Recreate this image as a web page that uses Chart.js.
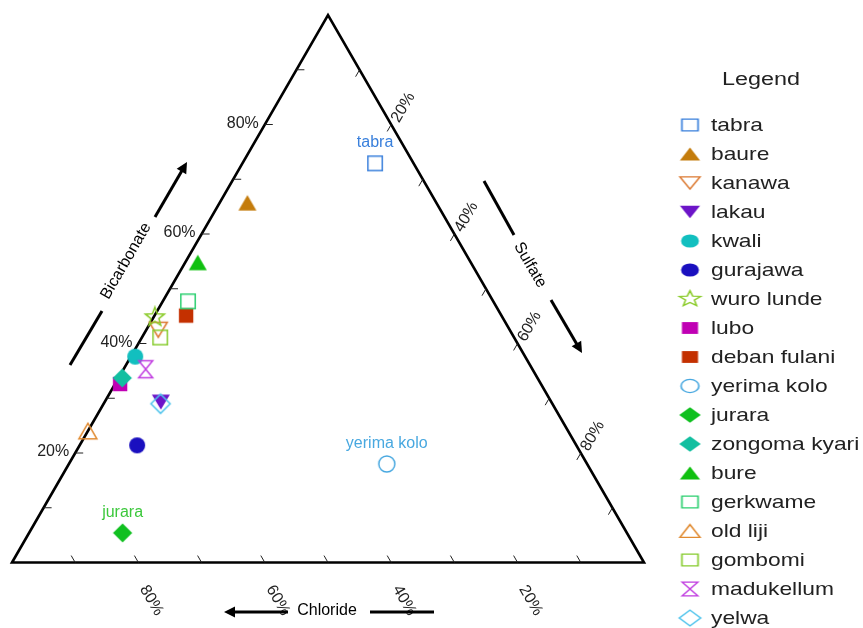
<!DOCTYPE html>
<html>
<head>
<meta charset="utf-8">
<script src="https://cdn.jsdelivr.net/npm/chart.js@4/dist/chart.umd.min.js"></script>
<style>
  html, body { margin: 0; padding: 0; background: #ffffff; }
  #wrap { width: 863px; height: 628px; }
</style>
</head>
<body>
<div id="wrap"><canvas id="chart" width="863" height="628"></canvas></div>
<script>
// Anion composition (% of HCO3 + SO4 + Cl) for each sampling site
const sites = ['tabra', 'baure', 'kanawa', 'lakau', 'kwali', 'gurajawa', 'wuro lunde', 'lubo',
  'deban fulani', 'yerima kolo', 'jurara', 'zongoma kyari', 'bure', 'gerkwame', 'old liji',
  'gombomi', 'madukellum', 'yelwa'];
const bicarbonate = [72.9, 65.7, 42.5, 29.3, 37.6, 21.4, 44.8, 32.6, 45.1, 18.0, 5.4, 33.7, 54.8, 47.7, 24.0, 41.1, 35.3, 29.0];
const sulfate     = [21.0,  4.4,  1.9,  8.9,  0.7,  9.1,  0.2,  0.8,  5.0, 50.3, 14.8, 0.6,  2.0,  4.0,  0.0,  2.9,  3.5,  9.0];
const chloride    = [ 6.1, 29.9, 55.6, 61.8, 61.7, 69.5, 55.0, 66.6, 49.9, 31.7, 79.8, 65.7, 43.2, 48.3, 76.0, 56.0, 61.2, 62.0];

// Marker style per site
const markerShapes = ['square', 'triUpFill', 'triDown', 'triDownFill', 'circleFill', 'circleFill', 'star', 'squareFill',
  'squareFill', 'circle', 'diamondFill', 'diamondFill', 'triUpFill', 'square', 'triUp',
  'square', 'hourglass', 'diamond'];
const markerColors = ['#3a80dc', '#c47c0c', '#dc7a32', '#6c14c8', '#12bfbf', '#1a0fbf', '#8ccc2c', '#c000b4',
  '#c43000', '#48a8e0', '#10c020', '#12bfa0', '#10c010', '#2ccf70', '#e08a30',
  '#88cc30', '#c03ce0', '#50c4ec'];

// Sites annotated with their name on the diagram
const labelledSites = ['tabra', 'yerima kolo', 'jurara'];
const labelColors = ['#3a80dc', '#48a8e0', '#3cc83c'];

// Axis graduations (%)
const minorTicks = [10, 20, 30, 40, 50, 60, 70, 80, 90];
const tickLabels = [20, 40, 60, 80];

const FONT = '"Liberation Sans", Arial, sans-serif';

function traceShape(g, shape) {
  g.beginPath();
  switch (shape.replace('Fill', '')) {
    case 'square': g.rect(-7.2, -7.2, 14.4, 14.4); break;
    case 'triUp': g.moveTo(0, -7.8); g.lineTo(9, 7.8); g.lineTo(-9, 7.8); g.closePath(); break;
    case 'triDown': g.moveTo(-9, -7.5); g.lineTo(9, -7.5); g.lineTo(0, 7.5); g.closePath(); break;
    case 'circle': g.arc(0, 0, 8, 0, Math.PI * 2); break;
    case 'diamond': g.moveTo(0, -9.6); g.lineTo(9.6, 0); g.lineTo(0, 9.6); g.lineTo(-9.6, 0); g.closePath(); break;
    case 'star':
      for (let k = 0; k < 10; k++) {
        const r = k % 2 === 0 ? 10 : 4.2;
        const a = -Math.PI / 2 + k * Math.PI / 5;
        const px = r * Math.cos(a), py = r * Math.sin(a);
        if (k === 0) g.moveTo(px, py); else g.lineTo(px, py);
      }
      g.closePath();
      break;
    case 'hourglass':
      g.moveTo(-7, -8.5); g.lineTo(7, -8.5); g.lineTo(-7, 8.5); g.lineTo(7, 8.5); g.closePath(); break;
  }
}

function markerCanvas(shape, color, sx, sy) {
  const cv = document.createElement('canvas');
  cv.width = Math.round(24 * sx);
  cv.height = Math.round(24 * sy);
  const g = cv.getContext('2d');
  g.translate(cv.width / 2, cv.height / 2);
  g.scale(sx, sy);
  traceShape(g, shape);
  if (shape.endsWith('Fill')) {
    g.fillStyle = color;
    g.fill();
  } else {
    g.strokeStyle = color;
    g.lineWidth = 1.5;
    g.lineJoin = 'miter';
    g.stroke();
  }
  return cv;
}

const plotMarkers = sites.map((s, i) => markerCanvas(markerShapes[i], markerColors[i], 1, 1));
const legendMarkers = sites.map((s, i) => markerCanvas(markerShapes[i], markerColors[i], 1.12, 0.82));

// Ternary -> cartesian (x across the base, y up toward the bicarbonate apex)
function ternaryPoint(i) {
  const t = bicarbonate[i] + sulfate[i] + chloride[i];
  const h = bicarbonate[i] / t * 100;
  const s = sulfate[i] / t * 100;
  return { x: s + h / 2, y: h };
}

const datasets = sites.map((name, i) => ({
  label: name,
  data: [ternaryPoint(i)],
  pointStyle: plotMarkers[i],
  pointRadius: 10,
  pointHoverRadius: 10,
  order: sites.length - i
}));

function drawArrow(ctx, x1, y1, x2, y2, head) {
  const ang = Math.atan2(y2 - y1, x2 - x1);
  const L = 11, W = 5.5;
  ctx.beginPath();
  ctx.moveTo(x1, y1);
  ctx.lineTo(head ? x2 - Math.cos(ang) * (L - 2) : x2, head ? y2 - Math.sin(ang) * (L - 2) : y2);
  ctx.stroke();
  if (head) {
    ctx.beginPath();
    ctx.moveTo(x2, y2);
    ctx.lineTo(x2 - L * Math.cos(ang) + W * Math.sin(ang), y2 - L * Math.sin(ang) - W * Math.cos(ang));
    ctx.lineTo(x2 - L * Math.cos(ang) - W * Math.sin(ang), y2 - L * Math.sin(ang) + W * Math.cos(ang));
    ctx.closePath();
    ctx.fill();
  }
}

function rotatedText(ctx, text, x, y, deg) {
  ctx.save();
  ctx.translate(x, y);
  ctx.rotate(deg * Math.PI / 180);
  ctx.textAlign = 'center';
  ctx.textBaseline = 'middle';
  ctx.fillText(text, 0, 0);
  ctx.restore();
}

const ternaryFrame = {
  id: 'ternaryFrame',
  beforeDatasetsDraw(chart) {
    const ctx = chart.ctx;
    const xs = chart.scales.x, ys = chart.scales.y;
    const P = (x, y) => [xs.getPixelForValue(x), ys.getPixelForValue(y)];
    const A = P(50, 100), B = P(100, 0), C = P(0, 0);

    ctx.save();
    // Triangle outline
    ctx.strokeStyle = '#000';
    ctx.lineWidth = 2.6;
    ctx.lineJoin = 'miter';
    ctx.beginPath();
    ctx.moveTo(C[0], C[1]); ctx.lineTo(A[0], A[1]); ctx.lineTo(B[0], B[1]); ctx.closePath();
    ctx.stroke();

    // Graduation ticks, pointing inward along the constant-value lines
    ctx.lineWidth = 1;
    ctx.strokeStyle = '#222';
    const len = 8, c60 = Math.cos(Math.PI / 3), s60 = Math.sin(Math.PI / 3);
    minorTicks.forEach(v => {
      let p = P(v / 2, v);                       // bicarbonate (left edge)
      ctx.beginPath(); ctx.moveTo(p[0], p[1]); ctx.lineTo(p[0] + len, p[1]); ctx.stroke();
      p = P(v + (100 - v) / 2, 100 - v);         // sulfate (right edge)
      ctx.beginPath(); ctx.moveTo(p[0], p[1]); ctx.lineTo(p[0] - len * c60, p[1] + len * s60); ctx.stroke();
      p = P(100 - v, 0);                         // chloride (base)
      ctx.beginPath(); ctx.moveTo(p[0], p[1]); ctx.lineTo(p[0] - len * c60, p[1] - len * s60); ctx.stroke();
    });

    // Graduation labels
    ctx.fillStyle = '#222';
    ctx.font = '16px ' + FONT;
    tickLabels.forEach(v => {
      const txt = v + '%';
      let p = P(v / 2, v);
      ctx.textAlign = 'right'; ctx.textBaseline = 'middle';
      ctx.fillText(txt, p[0] - 6, p[1] - 1);
      p = P(v + (100 - v) / 2, 100 - v);
      rotatedText(ctx, txt, p[0] + 12, p[1] - 17, -60);
      p = P(100 - v, 0);
      rotatedText(ctx, txt, p[0] + 13, p[1] + 38, 60);
    });

    // Axis titles with direction arrows
    ctx.fillStyle = '#000';
    ctx.strokeStyle = '#000';
    ctx.lineWidth = 3;
    ctx.lineCap = 'butt';
    rotatedText(ctx, 'Bicarbonate', 126, 261, -60);
    drawArrow(ctx, 70, 365, 102, 311, false);
    drawArrow(ctx, 155, 217, 187, 162, true);

    rotatedText(ctx, 'Sulfate', 530, 265, 60);
    drawArrow(ctx, 484, 181, 514, 235, false);
    drawArrow(ctx, 551, 300, 582, 353, true);

    rotatedText(ctx, 'Chloride', 327, 611, 0);
    drawArrow(ctx, 288, 612, 224, 612, true);
    drawArrow(ctx, 370, 612, 434, 612, false);
    ctx.restore();
  },
  afterDatasetsDraw(chart) {
    const ctx = chart.ctx;
    ctx.save();
    ctx.font = '16px ' + FONT;
    ctx.textAlign = 'center';
    ctx.textBaseline = 'alphabetic';
    labelledSites.forEach((name, k) => {
      const i = sites.indexOf(name);
      const el = chart.getDatasetMeta(i).data[0];
      ctx.fillStyle = labelColors[k];
      ctx.fillText(name, el.x, el.y - 16);
    });
    ctx.restore();
  },
  afterDraw(chart) {
    const ctx = chart.ctx;
    ctx.save();
    ctx.fillStyle = '#222';
    ctx.textBaseline = 'middle';
    ctx.textAlign = 'center';
    ctx.font = '18px ' + FONT;
    ctx.save();
    ctx.translate(761, 80);
    ctx.scale(1.3, 1);
    ctx.fillText('Legend', 0, 0);
    ctx.restore();

    ctx.textAlign = 'left';
    ctx.font = '19px ' + FONT;
    sites.forEach((name, i) => {
      const y = 125 + i * 29;
      const m = legendMarkers[i];
      ctx.drawImage(m, 690 - m.width / 2, y - m.height / 2);
      ctx.save();
      ctx.translate(711, y + 1);
      ctx.scale(1.2, 1);
      ctx.fillText(name, 0, 0);
      ctx.restore();
    });
    ctx.restore();
  }
};

new Chart(document.getElementById('chart'), {
  type: 'scatter',
  data: { datasets },
  options: {
    responsive: false,
    devicePixelRatio: 1,
    animation: false,
    layout: { padding: { left: 12, right: 219, top: 15, bottom: 65.5 } },
    scales: {
      x: { type: 'linear', min: 0, max: 100, display: false },
      y: { type: 'linear', min: 0, max: 100, display: false }
    },
    plugins: {
      legend: { display: false },
      tooltip: { enabled: false }
    }
  },
  plugins: [ternaryFrame]
});
</script>
</body>
</html>
